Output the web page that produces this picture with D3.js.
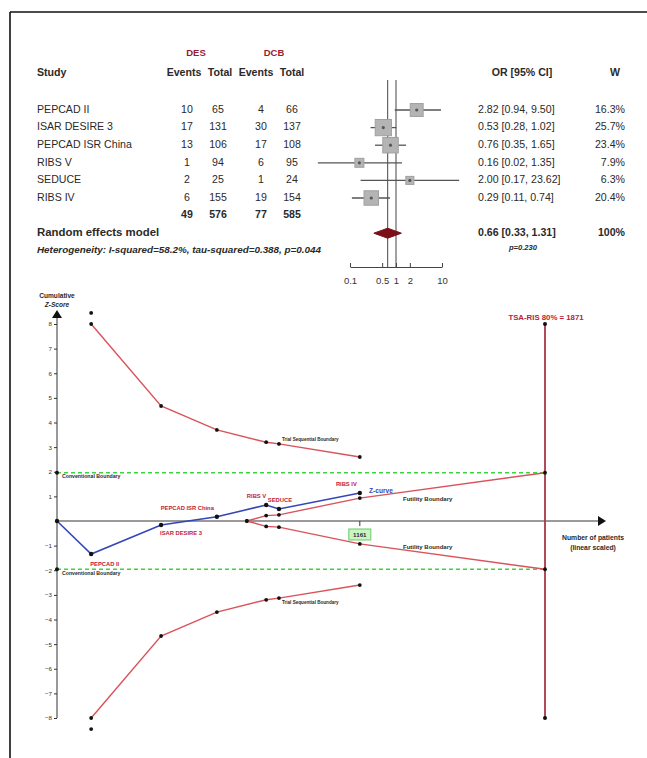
<!DOCTYPE html>
<html><head><meta charset="utf-8">
<script src="https://cdn.jsdelivr.net/npm/d3@7"></script>
<style>body{margin:0;background:#fff}svg{display:block}text{font-family:"Liberation Sans",Arial,sans-serif}</style>
</head><body>
<svg id="c" width="647" height="758"></svg>
<script>
// ---------- forest plot data ----------
const studies   = ["PEPCAD II","ISAR DESIRE 3","PEPCAD ISR China","RIBS V","SEDUCE","RIBS IV"];
const desEvents = [10,17,13,1,2,6];
const desTotal  = [65,131,106,94,25,155];
const dcbEvents = [4,30,17,6,1,19];
const dcbTotal  = [66,137,108,95,24,154];
const orVal     = [2.82,0.53,0.76,0.16,2.00,0.29];
const orLo      = [0.94,0.28,0.35,0.02,0.17,0.11];
const orHi      = [9.50,1.02,1.65,1.35,23.62,0.74];
const weights   = [16.3,25.7,23.4,7.9,6.3,20.4];
const totals    = [49,576,77,585];
const pooled    = [0.66,0.33,1.31];
const forestTicks = [0.1,0.5,1,2,10];
// ---------- TSA data ----------
const cumN      = [0,131,399,613,802,851,1161];
const cumZ      = [0,-1.34,-0.16,0.17,0.65,0.49,1.14];
const tsaLabels = ["","PEPCAD II","ISAR DESIRE 3","PEPCAD ISR China","RIBS V","SEDUCE","RIBS IV"];
const bndN      = [131,399,613,802,851,1161];
const bndZ      = [8,4.67,3.7,3.2,3.13,2.6];
const bndOverZ  = 8.45;
const futN      = [728,802,851,1161,1871];
const futZ      = [0,0.22,0.25,0.93,1.96];
const risN      = 1871;
const convZ     = 1.96;
const zTicks    = [8,7,6,5,4,3,2,1,-1,-2,-3,-4,-5,-6,-7,-8];

const svg = d3.select("#c");
const F = '"Liberation Sans",Arial,sans-serif';
// frame
svg.append("line").attr("x1",10).attr("x2",647).attr("y1",12).attr("y2",12).attr("stroke","#111").attr("stroke-width",1.6);
svg.append("line").attr("x1",10).attr("x2",10).attr("y1",12).attr("y2",758).attr("stroke","#111").attr("stroke-width",1.6);

// ===== Forest =====
const rowY0 = 110, rowStep = 17.6;
const rowY = i => rowY0 + i*rowStep;
const xF = d3.scaleLog().domain([0.1,10]).range([350,442]);
const t = (x,y,s,o={}) => {
  const e = svg.append("text").attr("x",x).attr("y",y).text(s)
    .attr("font-size",o.fs||10.6).attr("fill",o.fill||"#2a2a2a")
    .attr("text-anchor",o.a||"start").attr("dominant-baseline","middle");
  if(o.b) e.attr("font-weight","bold");
  if(o.i) e.attr("font-style","italic");
  if(o.len) e.attr("textLength",o.len).attr("lengthAdjust","spacingAndGlyphs");
  return e;
};
t(196,53,"DES",{fs:9.5,b:1,fill:"#9b1b2e",a:"middle"});
t(274,53,"DCB",{fs:9.5,b:1,fill:"#9b1b2e",a:"middle"});
t(37,73,"Study",{b:1,fs:10.6});
const cols=[187,218,261,292];
t(184,73,"Events",{b:1,a:"middle"}); t(220,73,"Total",{b:1,a:"middle"});
t(256,73,"Events",{b:1,a:"middle"}); t(292,73,"Total",{b:1,a:"middle"});
t(522,73,"OR  [95% CI]",{b:1,a:"middle"});
t(615,73,"W",{b:1,a:"middle"});

studies.forEach((s,i)=>{
  const y=rowY(i);
  t(37,y,s);
  t(cols[0],y,desEvents[i],{a:"middle"});
  t(cols[1],y,desTotal[i],{a:"middle"});
  t(cols[2],y,dcbEvents[i],{a:"middle"});
  t(cols[3],y,dcbTotal[i],{a:"middle"});
  t(478,y,orVal[i].toFixed(2)+"  ["+orLo[i].toFixed(2)+", "+orHi[i].toFixed(2)+"]");
  t(625,y,weights[i].toFixed(1)+"%",{a:"end"});
});
const yTot=rowY(6);
totals.forEach((v,j)=>t(cols[j],yTot,v,{a:"middle",b:1}));
const yRE=rowY(7), yHet=rowY(8);
t(37,yRE,"Random effects model",{b:1,fs:11.4});
t(37,yHet,"Heterogeneity: I-squared=58.2%, tau-squared=0.388, p=0.044",{b:1,i:1,fs:8.4,len:284});
t(478,yRE,pooled[0].toFixed(2)+"  ["+pooled[1].toFixed(2)+", "+pooled[2].toFixed(2)+"]",{b:1});
t(625,yRE,"100%",{b:1,a:"end"});
t(523,yHet-3,"p=0.230",{b:1,i:1,fs:7.6,a:"middle"});

const axY = 267;
// reference lines
svg.append("line").attr("x1",xF(1)).attr("x2",xF(1)).attr("y1",80).attr("y2",axY).attr("stroke","#444").attr("stroke-width",1);
svg.append("line").attr("x1",xF(pooled[0])).attr("x2",xF(pooled[0])).attr("y1",80).attr("y2",axY).attr("stroke","#444").attr("stroke-width",1);
// CIs & squares
studies.forEach((s,i)=>{
  const y=rowY(i);
  svg.append("line").attr("x1",xF(orLo[i])).attr("x2",xF(orHi[i])).attr("y1",y).attr("y2",y).attr("stroke","#555").attr("stroke-width",1.3);
  const sz = 3.2*Math.sqrt(weights[i]);
  svg.append("rect").attr("x",xF(orVal[i])-sz/2).attr("y",y-sz/2).attr("width",sz).attr("height",sz).attr("fill","#b4b4b4").attr("stroke","#a0a0a0");
  svg.append("circle").attr("cx",xF(orVal[i])).attr("cy",y).attr("r",1.6).attr("fill","#555");
});
// diamond
svg.append("path").attr("d",`M${xF(pooled[1])},${yRE} L${xF(pooled[0])},${yRE-5} L${xF(pooled[2])},${yRE} L${xF(pooled[0])},${yRE+5} Z`).attr("fill","#7a0f18").attr("stroke","#7a0f18");
// axis
const fAx = svg.append("g").attr("transform",`translate(0,${axY})`)
  .call(d3.axisBottom(xF).tickValues(forestTicks).tickFormat(d=>d).tickSize(4).tickSizeOuter(0));
fAx.selectAll("text").attr("font-size",9.5).attr("fill","#333").attr("font-family",F).attr("dy","1em");
fAx.select(".domain").attr("stroke","#444");
fAx.selectAll(".tick line").attr("stroke","#444").attr("transform","translate(0,-4)");

// ===== TSA =====
const x = d3.scaleLinear().domain([0,risN]).range([57,545]);
const y = d3.scaleLinear().domain([-8,8]).range([718,324]);
const x0 = x(0), y0 = y(0);
// y axis
svg.append("line").attr("x1",x0).attr("x2",x0).attr("y1",316).attr("y2",y(-8)).attr("stroke","#333").attr("stroke-width",1);
svg.append("path").attr("d",`M${x0-5},${318} L${x0},${310} L${x0+5},${318} Z`).attr("fill","#111");
const yAx = svg.append("g").attr("transform",`translate(${x0},0)`)
  .call(d3.axisLeft(y).tickValues(zTicks).tickSize(3).tickFormat(d3.format("d")));
yAx.select(".domain").remove();
yAx.selectAll("text").attr("font-size",6.2).attr("fill","#333").attr("font-family",F).attr("x",-5);
yAx.selectAll(".tick line").attr("stroke","#333");
t(57,296,"Cumulative",{b:1,fs:6.6,a:"middle"});
t(57,305,"Z-Score",{b:1,fs:6.6,i:1,a:"middle"});
// x axis
svg.append("line").attr("x1",x0).attr("x2",599).attr("y1",y0).attr("y2",y0).attr("stroke","#9a9a9a").attr("stroke-width",2);
svg.append("path").attr("d",`M${598},${y0-5} L${606},${y0} L${598},${y0+5} Z`).attr("fill","#111");
t(593,538,"Number of patients",{b:1,fs:6.8,a:"middle"});
t(593,548,"(linear scaled)",{b:1,fs:6.8,a:"middle"});

// conventional boundaries
[convZ,-convZ].forEach(z=>{
  svg.append("line").attr("x1",x0).attr("x2",x(risN)).attr("y1",y(z)).attr("y2",y(z)).attr("stroke","#3cd43c").attr("stroke-width",1.3).attr("stroke-dasharray","4,3");
  svg.append("circle").attr("cx",x0).attr("cy",y(z)).attr("r",2).attr("fill","#111");
  t(62,y(z)+4,"Conventional Boundary",{b:1,fs:5.2});
});

const line = d3.line().x(d=>x(d[0])).y(d=>y(d[1]));
const red = "#d9535a";
// RIS vertical
svg.append("line").attr("x1",x(risN)).attr("x2",x(risN)).attr("y1",y(8)).attr("y2",y(-8)).attr("stroke","#a83848").attr("stroke-width",1.8);
[8,-8].forEach(z=>svg.append("circle").attr("cx",x(risN)).attr("cy",y(z)).attr("r",2).attr("fill","#111"));
t(546,318,"TSA-RIS 80% = 1871",{b:1,fs:7.8,fill:"#c0203a",a:"middle"});

// sequential & futility boundaries
[1,-1].forEach(sg=>{
  const pts = bndN.map((n,i)=>[n,sg*bndZ[i]]);
  svg.append("path").attr("d",line(pts)).attr("fill","none").attr("stroke",red).attr("stroke-width",1.4);
  pts.forEach(p=>svg.append("circle").attr("cx",x(p[0])).attr("cy",y(p[1])).attr("r",1.9).attr("fill","#111"));
  svg.append("circle").attr("cx",x(bndN[0])).attr("cy",y(sg*bndOverZ)).attr("r",1.9).attr("fill","#111");
  t(x(bndN[4])+3,y(sg*bndZ[4])+(sg>0?-4:5),"Trial Sequential Boundary",{b:1,fs:4.6});
  const fp = futN.map((n,i)=>[n,sg*futZ[i]]);
  svg.append("path").attr("d",line(fp)).attr("fill","none").attr("stroke",red).attr("stroke-width",1.4);
  fp.forEach(p=>svg.append("circle").attr("cx",x(p[0])).attr("cy",y(p[1])).attr("r",1.9).attr("fill","#111"));
  t(403,sg>0?499:547,"Futility Boundary",{b:1,fs:6});
});

// Z-curve
const zp = cumN.map((n,i)=>[n,cumZ[i]]);
svg.append("path").attr("d",line(zp)).attr("fill","none").attr("stroke","#3346b8").attr("stroke-width",1.6);
zp.forEach(p=>svg.append("circle").attr("cx",x(p[0])).attr("cy",y(p[1])).attr("r",2.2).attr("fill","#111"));
// label placement: [dx, dy, anchor]
const lblPos = [null,[-1,10,"start"],[-1,9,"start"],[-3,-8,"end"],[0,-9,"end"],[1,-8,"middle"],[-3,-8,"end"]];
tsaLabels.forEach((s,i)=>{ if(!s) return;
  const p=lblPos[i];
  t(x(cumN[i])+p[0],y(cumZ[i])+p[1],s,{b:1,fs:5.8,fill:"#c0203a",a:p[2]});
});
t(369,491,"Z-curve",{b:1,fs:6.6,fill:"#3346b8"});
// 1161 marker
const nT = cumN[cumN.length-1];
svg.append("line").attr("x1",x(nT)).attr("x2",x(nT)).attr("y1",y0).attr("y2",y0+5).attr("stroke","#333");
svg.append("rect").attr("x",x(nT)-11).attr("y",529).attr("width",22).attr("height",11).attr("fill","#c9f5c4").attr("stroke","#6c6");
t(x(nT),535,String(nT),{b:1,fs:6.2,a:"middle"});
</script>
</body></html>
